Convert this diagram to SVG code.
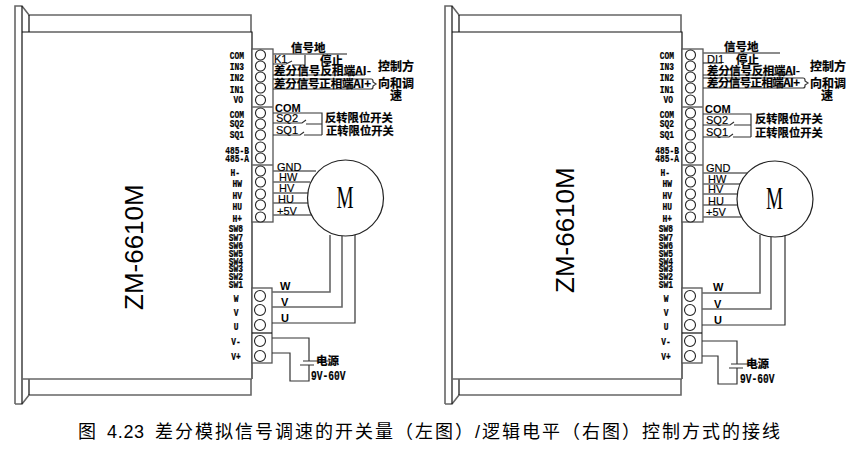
<svg xmlns="http://www.w3.org/2000/svg" width="860" height="454" viewBox="0 0 860 454">
<style>
text{font-family:"Liberation Sans","Noto Sans CJK SC",sans-serif;fill:#000}
.b{fill:none;stroke:#111;stroke-width:1.2}
.g{fill:none;stroke:#666;stroke-width:1.6}
.w{fill:none;stroke:#333;stroke-width:1.2}
.t{fill:#fff;stroke:#555;stroke-width:1.3}
.c{fill:#fff;stroke:#222;stroke-width:1.1}
.p,.m{font-family:"Liberation Mono",monospace;font-weight:700;font-size:11px;stroke:#000;stroke-width:.25}
.p{text-anchor:end}
.m{text-anchor:middle}
.z{font-size:26px}
.l{font-size:11px;stroke:#000;stroke-width:.15}
.lb{font-size:11px;font-weight:700}
.cn{font-size:11.500px;font-weight:700;font-family:"Noto Sans CJK SC",sans-serif;stroke:#000;stroke-width:.2}
.cb{font-size:12px}
.cs{font-size:11.300px}
.v{font-family:"Liberation Mono",monospace;font-size:12px;font-weight:700;stroke:#000;stroke-width:.2}
.mm{font-family:"Liberation Serif",serif;font-size:32px}
</style>
<defs>
<g id="dev">
<path class="g" d="M15 404V6H22L29 15H251V32M15 404H22L29 395H251V379"/>
<rect x="22" y="32" width="230" height="347" fill="#fff" stroke="none"/>
<path class="b" d="M22 6V404M29 15V32M29 379V395"/>
<path class="b" d="M22 32H252V379"/>
<path class="g" d="M22 379H252"/>
</g>
<g id="term">
<rect class="t" x="252" y="49" width="21" height="173"/>
<path class="g" d="M252 107H273M252 165H273"/>
<rect class="t" x="252" y="288" width="20" height="75"/>
<path class="b" d="M252 333H272"/>
<circle class="c" cx="260.500" cy="55" r="5"/><circle class="c" cx="260.500" cy="66" r="5"/><circle class="c" cx="260.500" cy="77" r="5"/><circle class="c" cx="260.500" cy="88" r="5"/><circle class="c" cx="260.500" cy="100" r="5"/>
<circle class="c" cx="260.500" cy="113" r="5"/><circle class="c" cx="260.500" cy="124" r="5"/><circle class="c" cx="260.500" cy="135" r="5"/><circle class="c" cx="260.500" cy="147" r="5"/><circle class="c" cx="260.500" cy="158" r="5"/>
<circle class="c" cx="260.500" cy="171" r="5"/><circle class="c" cx="260.500" cy="182" r="5"/><circle class="c" cx="260.500" cy="194" r="5"/><circle class="c" cx="260.500" cy="205" r="5"/><circle class="c" cx="260.500" cy="217" r="5"/>
<circle class="c" cx="260" cy="296" r="5.500"/><circle class="c" cx="260" cy="310" r="5.500"/><circle class="c" cx="260" cy="325" r="5.500"/><circle class="c" cx="260" cy="341" r="5.500"/><circle class="c" cx="260" cy="356" r="5.500"/>
</g>
</defs>

<g id="device-left">
<use href="#dev"/>
<text class="z" transform="translate(143 310) rotate(-90)">ZM-6610M</text>
<use href="#term"/>
<g transform="translate(244 0) scale(.72 1)">
<text class="p" y="59">COM</text><text class="p" y="70">IN3</text><text class="p" y="81">IN2</text><text class="p" y="93">IN1</text><text class="p" x="-1.400" y="103">VO</text>
<text class="p" y="118">COM</text><text class="p" y="127">SQ2</text><text class="p" y="138">SQ1</text><text class="p" x="7" y="154">485-B</text><text class="p" x="7" y="162">485-A</text>
<text class="p" x="-5.500" y="176">H-</text><text class="p" x="-2.800" y="187">HW</text><text class="p" x="-2.800" y="199">HV</text><text class="p" x="-2.800" y="210">HU</text><text class="p" x="-2.800" y="222">H+</text>
<text class="p" x="-1.400" y="232">SW8</text><text class="p" x="-1.400" y="241">SW7</text><text class="p" x="-1.400" y="249">SW6</text><text class="p" x="-1.400" y="257">SW5</text><text class="p" x="-1.400" y="265">SW4</text><text class="p" x="-1.400" y="272">SW3</text><text class="p" x="-1.400" y="280">SW2</text><text class="p" x="-1.400" y="288">SW1</text>
<text class="m" x="-11" y="302">W</text><text class="m" x="-11" y="316">V</text><text class="m" x="-11" y="330">U</text><text class="m" x="-11" y="345">V-</text><text class="m" x="-11" y="360">V+</text>
</g>
</g>

<g id="device-right">
<use href="#dev" x="430"/>
<text class="z" transform="translate(574 293) rotate(-90)">ZM-6610M</text>
<use href="#term" x="430"/>
<g transform="translate(674 0) scale(.72 1)">
<text class="p" y="59">COM</text><text class="p" y="70">IN3</text><text class="p" y="81">IN2</text><text class="p" y="93">IN1</text><text class="p" x="-1.400" y="103">VO</text>
<text class="p" y="118">COM</text><text class="p" y="127">SQ2</text><text class="p" y="138">SQ1</text><text class="p" x="7" y="154">485-B</text><text class="p" x="7" y="162">485-A</text>
<text class="p" x="-5.500" y="176">H-</text><text class="p" x="-2.800" y="187">HW</text><text class="p" x="-2.800" y="199">HV</text><text class="p" x="-2.800" y="210">HU</text><text class="p" x="-2.800" y="222">H+</text>
<text class="p" x="-1.400" y="232">SW8</text><text class="p" x="-1.400" y="241">SW7</text><text class="p" x="-1.400" y="249">SW6</text><text class="p" x="-1.400" y="257">SW5</text><text class="p" x="-1.400" y="265">SW4</text><text class="p" x="-1.400" y="272">SW3</text><text class="p" x="-1.400" y="280">SW2</text><text class="p" x="-1.400" y="288">SW1</text>
<text class="m" x="-11" y="302">W</text><text class="m" x="-11" y="316">V</text><text class="m" x="-11" y="330">U</text><text class="m" x="-11" y="345">V-</text><text class="m" x="-11" y="360">V+</text>
</g>
</g>

<g id="connectors">
<!-- left -->
<path class="g" d="M273 54H347"/>
<path class="w" d="M273 64H286L292 61M292 65H305V55"/>
<path class="w" d="M273 75H365M273 79H371Q373 79 373 81V82L376 84L373 86V87Q373 89 371 89H273"/>
<path class="w" d="M273 113H322V135M273 123H302L306 120M306 124H322M273 135H300L304 132M304 135H322"/>
<path class="g" d="M273 171H316M273 182H310M273 193H308M273 203H308M273 215H312"/>
<path class="g" d="M330 235V292H272M342 236V307H272"/>
<path class="w" d="M355 235V323H272"/>
<path class="w" d="M272 338H309V361M303 361H330M300 365H314M309 365V381H290V353H272"/>
<!-- right -->
<path class="g" d="M703 53H780"/>
<path class="w" d="M703 63H722"/>
<path class="w" d="M703 75H793M703 78H803Q805 78 805 80V81L808 83L805 85V86Q805 88 803 88H703"/>
<path class="w" d="M703 114H751V137M703 125H730L734 122M734 125H751M703 137H729L733 134M733 137H751"/>
<path class="g" d="M703 173H747M703 184H740M703 194H737M703 205H737M703 217H741"/>
<path class="g" d="M760 235V293H702"/>
<path class="g" d="M771 237V309H702"/>
<path class="w" d="M785 235V325H702"/>
<path class="w" d="M702 341H737V364M731 364H758M729 368H743M737 368V384H718V356H702"/>
</g>

<g id="motor-left">
<circle cx="345.500" cy="198" r="38" fill="#fff" stroke="#222" stroke-width="1.200"/>
<text class="mm" transform="translate(336.500 208) scale(.6 1)">M</text>
</g>
<g id="motor-right">
<circle cx="775" cy="199" r="38" fill="#fff" stroke="#222" stroke-width="1.200"/>
<text class="mm" transform="translate(766 209) scale(.6 1)">M</text>
</g>

<g id="labels-left">
<text class="cn" x="291" y="52">信号地</text>
<text class="l" x="274" y="63">K1</text>
<text class="cn" x="320" y="65">停止</text>
<text class="cn" x="274" y="75" textLength="97">差分信号反相端AI-</text>
<text class="cn" x="274" y="88" textLength="97">差分信号正相端AI+</text>
<text class="cn cb" x="378" y="71">控制方</text>
<text class="cn cb" x="378" y="88">向和调</text>
<text class="cn cb" x="390" y="100">速</text>
<text class="lb" x="275" y="112">COM</text>
<text class="l" x="276" y="122">SQ2</text>
<text class="l" x="276" y="134">SQ1</text>
<text class="cn cs" x="325" y="122">反转限位开关</text>
<text class="cn cs" x="326" y="135">正转限位开关</text>
<text class="l" x="277" y="170.500">GND</text><text class="l" x="279" y="181">HW</text><text class="l" x="279" y="192">HV</text><text class="l" x="278" y="203">HU</text><text class="l" x="277" y="215">+5V</text>
<text class="lb" x="280" y="290">W</text><text class="lb" x="281" y="306">V</text><text class="lb" x="281" y="322">U</text>
<text class="cn" x="316" y="365">电源</text>
<text class="v" transform="translate(311 380) scale(.8 1)">9V-60V</text>
</g>

<g id="labels-right">
<text class="cn" x="724" y="51">信号地</text>
<text class="l" x="707" y="63">DI1</text>
<text class="cn" x="736" y="64">停止</text>
<text class="cn" x="707" y="75" textLength="93">差分信号反相端AI-</text>
<text class="cn" x="707" y="87" textLength="93">差分信号正相端AI+</text>
<text class="cn cb" x="810" y="71">控制方</text>
<text class="cn cb" x="810" y="88">向和调</text>
<text class="cn cb" x="821" y="100">速</text>
<text class="lb" x="705" y="113">COM</text>
<text class="l" x="706" y="124">SQ2</text>
<text class="l" x="706" y="136">SQ1</text>
<text class="cn cs" x="755" y="123">反转限位开关</text>
<text class="cn cs" x="755" y="137">正转限位开关</text>
<text class="l" x="706" y="172">GND</text><text class="l" x="708" y="183">HW</text><text class="l" x="708" y="193">HV</text><text class="l" x="708" y="205">HU</text><text class="l" x="706" y="216">+5V</text>
<text class="lb" x="713" y="291">W</text><text class="lb" x="714" y="308">V</text><text class="lb" x="714" y="324">U</text>
<text class="cn" x="746" y="368">电源</text>
<text class="v" transform="translate(740 383) scale(.8 1)">9V-60V</text>
</g>

<text id="caption" y="438" font-size="18" letter-spacing="2"><tspan x="78">图</tspan><tspan x="107" letter-spacing=".7">4.23</tspan><tspan x="155">差分模拟信号调速的开关量（左图）/逻辑电平（右图）控制方式的接线</tspan></text>
</svg>
